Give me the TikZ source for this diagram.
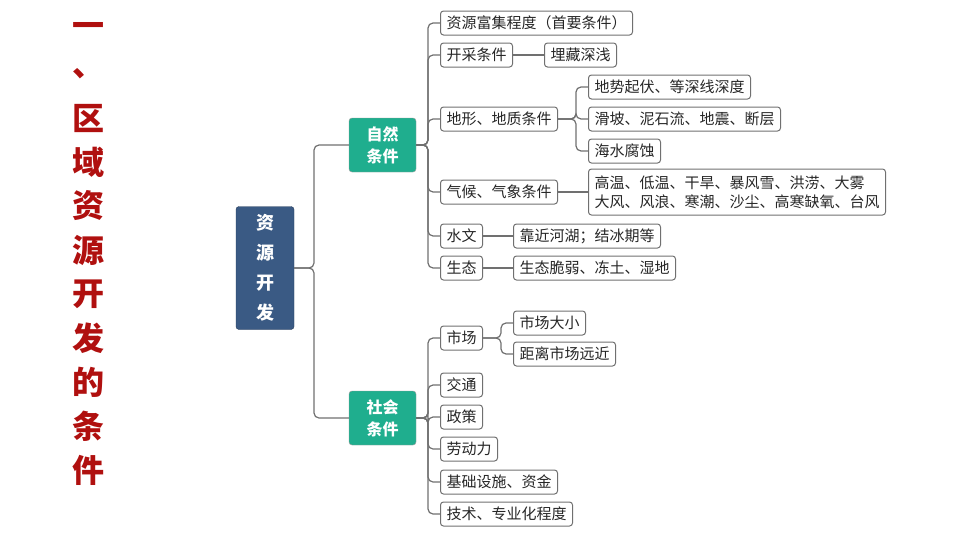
\documentclass[tikz,border=0pt]{standalone}
\usepackage{fontspec}
\newfontfamily\cjk{Noto Sans CJK SC}
\usetikzlibrary{positioning}
\definecolor{titlered}{HTML}{B0100F}
\definecolor{rootblue}{HTML}{3A5A84}
\definecolor{natgreen}{HTML}{1FAE8E}
\definecolor{linegray}{HTML}{707070}
\tikzset{
  leaf/.style={draw=linegray, line width=1pt, rounded corners=3pt, anchor=west,
    minimum height=24pt, inner xsep=6pt, inner ysep=2pt,
    font=\cjk\fontsize{15}{19}\selectfont, text=black!85},
  mid/.style={draw=linegray!70, rounded corners=3pt, minimum width=67pt, minimum height=54pt,
    fill=natgreen, text=white, align=center, font=\cjk\bfseries\fontsize{16}{22}\selectfont},
  conn/.style={draw=linegray, line width=1.2pt, rounded corners=5pt},
}
\begin{document}
\begin{tikzpicture}[x=1pt,y=-1pt]
    \useasboundingbox (0,0) rectangle (960,538);
    % title
    \foreach \ch [count=\i] in {一,、,区,域,资,源,开,发,的,条,件}
      \node[text=titlered, font=\cjk\bfseries\fontsize{32}{32}\selectfont] (t\i) at (88,{-14+44*\i}) {\ch};

    % root and level 1
    \node[fill=rootblue, draw=rootblue!70!black, rounded corners=3pt, minimum width=58pt, minimum height=123pt,
      text=white, align=center, font=\cjk\bfseries\fontsize{18}{30}\selectfont] (root) at (265,268) {资\\源\\开\\发};
    \node[mid] (nat) at (382.5,145) {自然\\条件};
    \node[mid] (soc) at (382.5,418) {社会\\条件};
    \draw[conn] (root.east) -- (314,268) |- (nat.west);
    \draw[conn] (root.east) -- (314,268) |- (soc.west);

    % natural conditions
    \node[leaf] (rich) at (440,23) {资源富集程度（首要条件）};
    \node[leaf] (mine) at (440,55) {开采条件};
    \node[leaf] (terr) at (440,119) {地形、地质条件};
    \node[leaf] (clim) at (440,192) {气候、气象条件};
    \node[leaf] (hydr) at (440,236) {水文};
    \node[leaf] (eco) at (440,268) {生态};
    \foreach \c in {rich,mine,terr,clim,hydr,eco}
      \draw[conn] (nat.east) -- (428,145) |- (\c.west);

    \node[leaf] (depth) at (544,55) {埋藏深浅};
    \draw[conn] (mine) -- (depth);
    \node[leaf] (relief) at (588,87) {地势起伏、等深线深度};
    \node[leaf] (slide) at (588,119) {滑坡、泥石流、地震、断层};
    \node[leaf] (sea) at (588,151) {海水腐蚀};
    \foreach \c in {relief,slide,sea}
      \draw[conn] (terr.east) -- (576,119) |- (\c.west);
    \node[leaf, align=left, minimum height=46pt] (weather) at (588,192) {高温、低温、干旱、暴风雪、洪涝、大雾\\大风、风浪、寒潮、沙尘、高寒缺氧、台风};
    \draw[conn] (clim) -- (weather);
    \node[leaf] (river) at (513,236) {靠近河湖；结冰期等};
    \draw[conn] (hydr) -- (river);
    \node[leaf] (fragile) at (513,268) {生态脆弱、冻土、湿地};
    \draw[conn] (eco) -- (fragile);

    % social conditions
    \node[leaf] (market) at (440,338) {市场};
    \node[leaf] (traffic) at (440,385) {交通};
    \node[leaf] (policy) at (440,417) {政策};
    \node[leaf] (labor) at (440,449) {劳动力};
    \node[leaf] (infra) at (440,482) {基础设施、资金};
    \node[leaf] (tech) at (440,514) {技术、专业化程度};
    \foreach \c in {market,traffic,policy,labor,infra,tech}
      \draw[conn] (soc.east) -- (428,418) |- (\c.west);
    \node[leaf] (size) at (513,323) {市场大小};
    \node[leaf] (dist) at (513,354) {距离市场远近};
    \foreach \c in {size,dist}
      \draw[conn] (market.east) -- (501,338) |- (\c.west);
\end{tikzpicture}
\end{document}
